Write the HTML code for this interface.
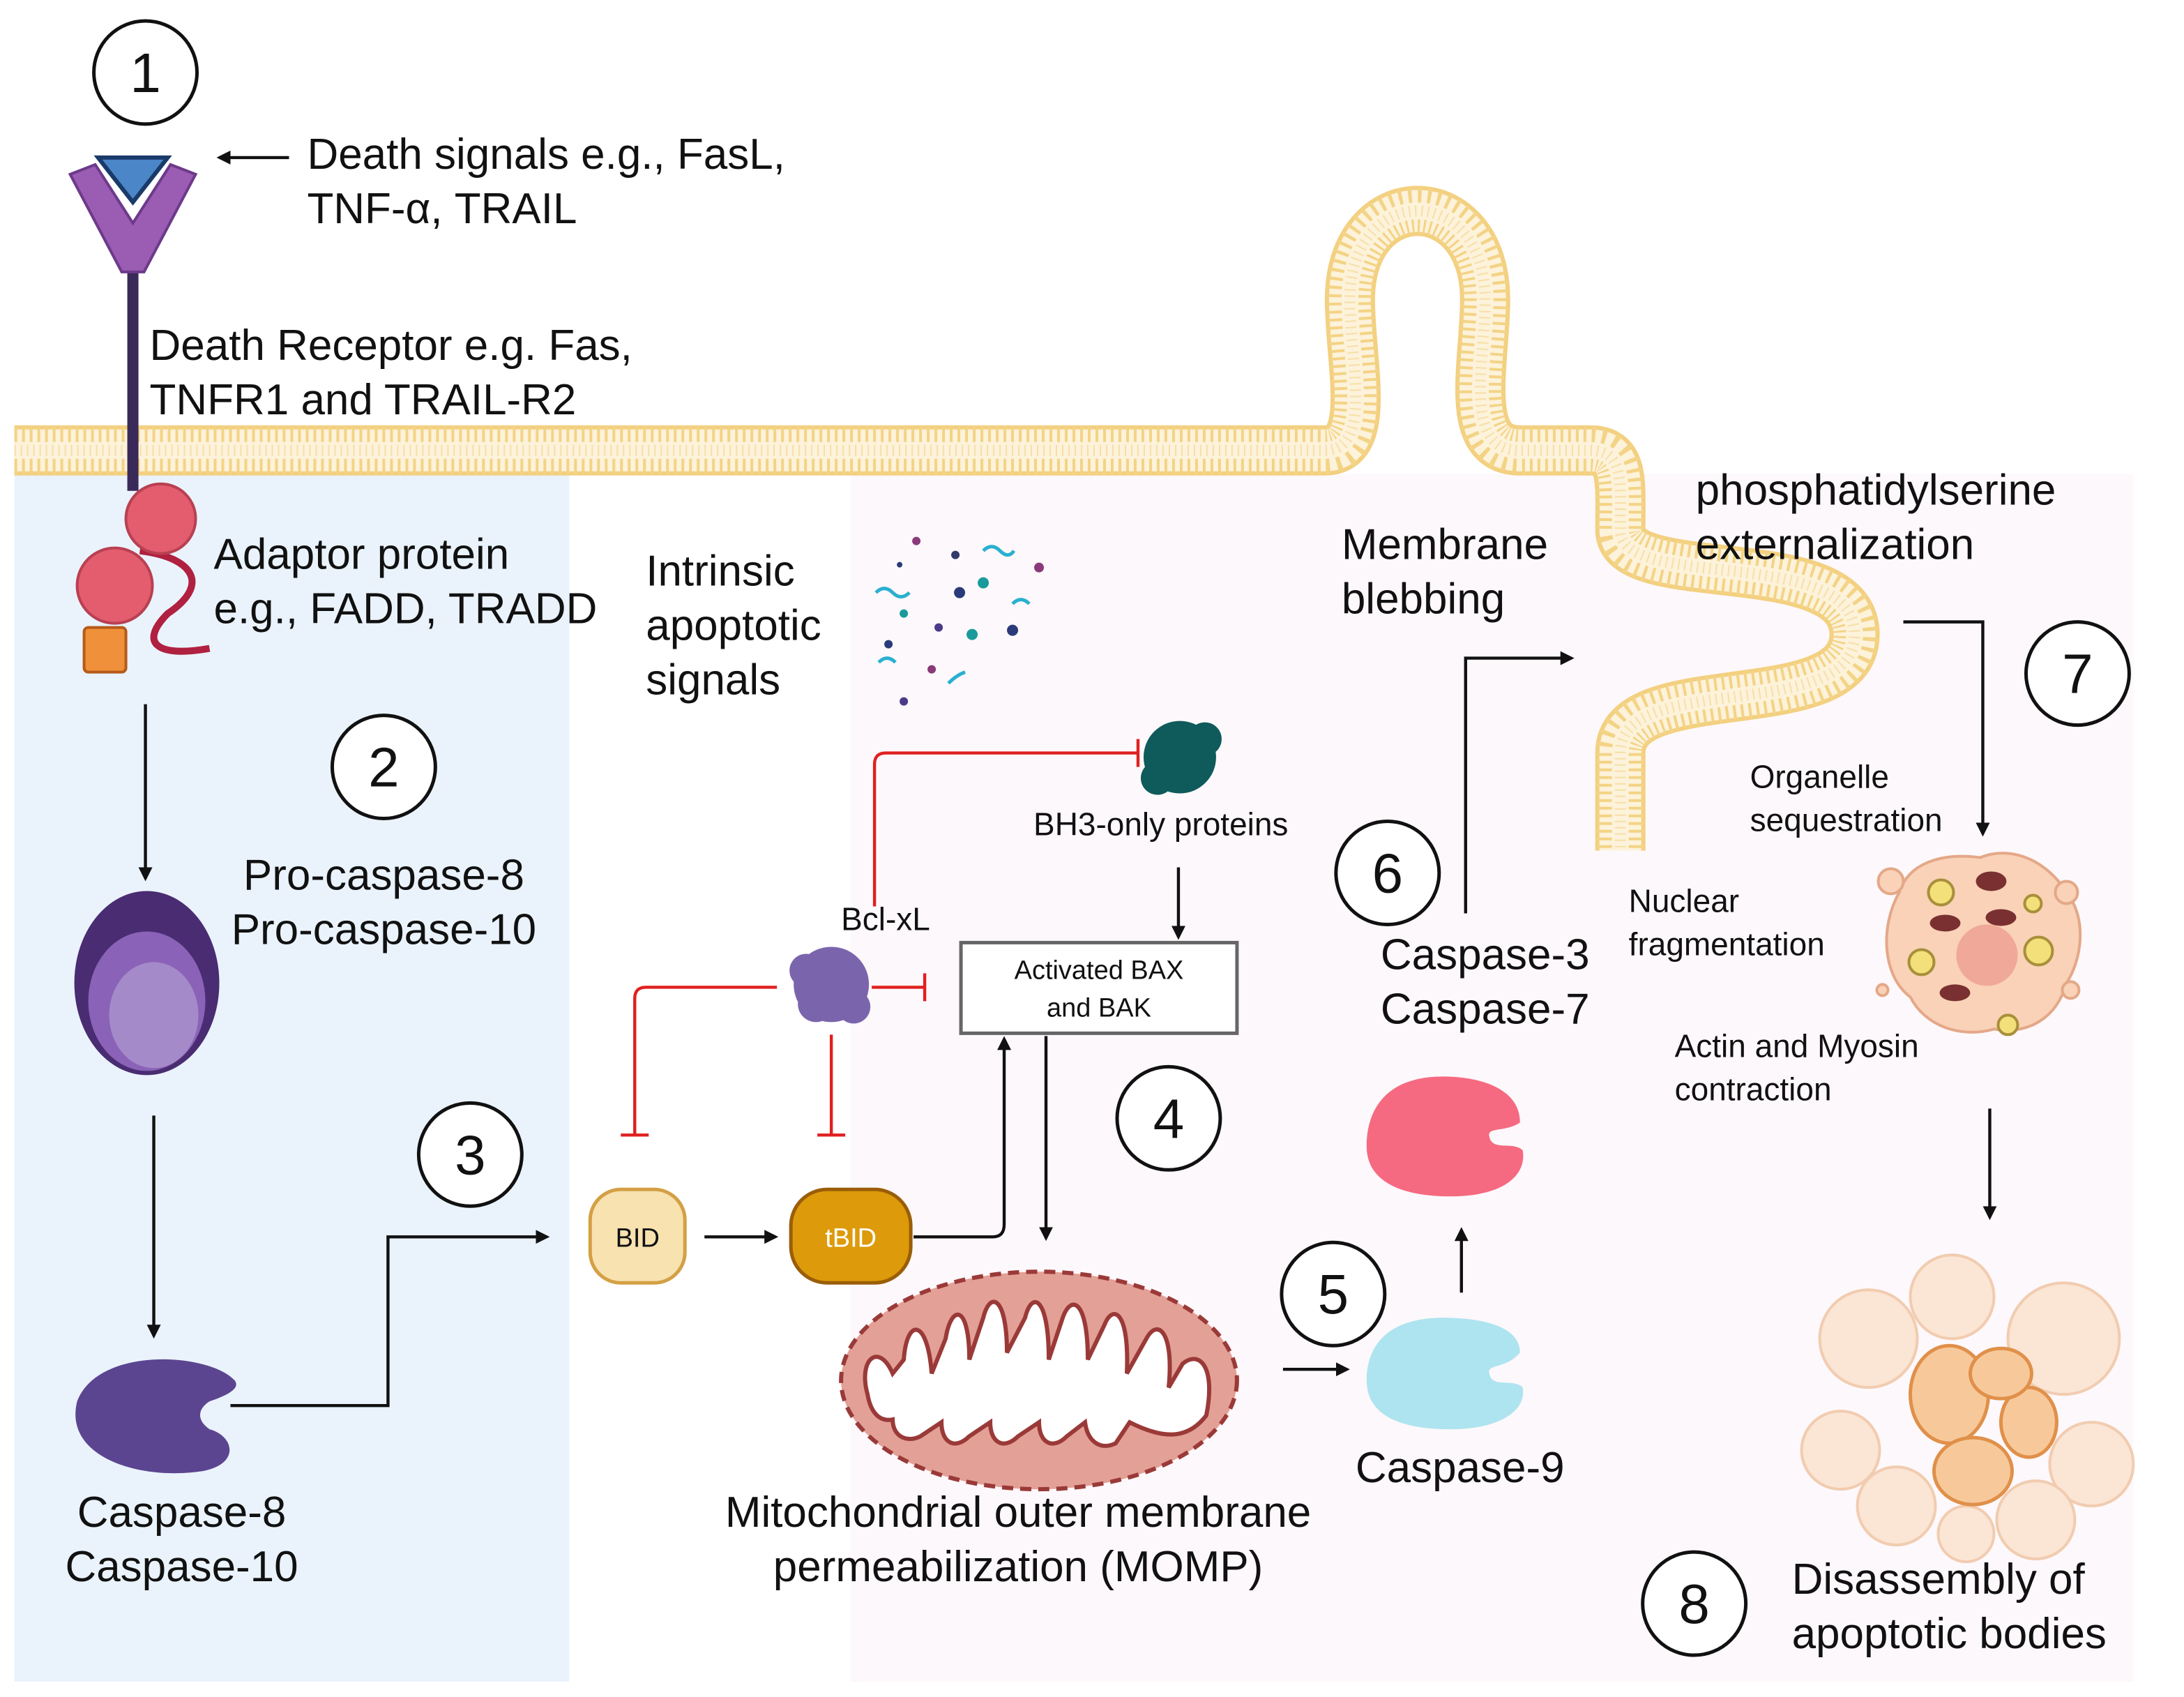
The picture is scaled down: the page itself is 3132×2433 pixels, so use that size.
<!DOCTYPE html>
<html><head><meta charset="utf-8"><style>
html,body{margin:0;padding:0;background:#fff;}
svg{display:block;}
text{font-family:"Liberation Sans",sans-serif;fill:#111;}
</style></head><body>
<svg width="3132" height="2433" viewBox="0 0 1566 1217" xmlns="http://www.w3.org/2000/svg">
<defs>
<marker id="ah" markerWidth="10" markerHeight="10" refX="8" refY="5" orient="auto" markerUnits="userSpaceOnUse"><path d="M0,0 L10,5 L0,10 z" fill="#111"/></marker>
<path id="mem" d="M10,323 L950,323 C985,323 968,260 968,215 C968,130 1065,130 1065,215 C1065,260 1048,323 1090,323 L1140,323 C1165,323 1162,345 1162,380 C1162,425 1330,390 1330,455 C1330,520 1162,480 1162,540 L1162,610"/>
</defs>
<rect width="1566" height="1217" fill="#fff"/>
<rect x="10" y="340" width="398" height="866" fill="#eaf3fc"/>
<rect x="610" y="340" width="920" height="866" fill="#fdf8fb"/>

<!-- membrane -->
<g fill="none" stroke-linejoin="round">
<use href="#mem" stroke="#f3d080" stroke-width="36"/>
<use href="#mem" stroke="#fdf2da" stroke-width="30"/>
<use href="#mem" stroke="#f3d385" stroke-width="34" stroke-dasharray="2 3.5"/>
<use href="#mem" stroke="#fdf2da" stroke-width="12"/>
<use href="#mem" stroke="#f6dfa8" stroke-width="8" stroke-dasharray="1 3.5"/>
</g>

<!-- numbered circles -->
<g fill="#fff" stroke="#111" stroke-width="2.5">
<circle cx="104" cy="52" r="37"/><circle cx="275" cy="550" r="37"/><circle cx="337" cy="828" r="37"/>
<circle cx="838" cy="802" r="37"/><circle cx="956" cy="928" r="37"/><circle cx="995" cy="626" r="37"/>
<circle cx="1490" cy="483" r="37"/><circle cx="1215" cy="1150" r="37"/>
</g>
<g font-size="40" text-anchor="middle">
<text x="104" y="66">1</text><text x="275" y="564">2</text><text x="337" y="842">3</text>
<text x="838" y="816">4</text><text x="956" y="942">5</text><text x="995" y="640">6</text>
<text x="1490" y="497">7</text><text x="1215" y="1164">8</text>
</g>

<!-- receptor -->
<line x1="95" y1="190" x2="95" y2="352" stroke="#3a2a5a" stroke-width="8"/>
<path d="M50,125 L68,118 L95,160 L122,118 L140,125 L103,195 L87,195 z" fill="#9b5cb4" stroke="#6d3a8a" stroke-width="2"/>
<path d="M70,113 L120,113 L95,145 z" fill="#4a86c8" stroke="#1a3a6a" stroke-width="3"/>

<!-- adaptor -->
<path d="M100,395 C140,400 150,420 120,440 C100,460 110,472 150,465" stroke="#b02040" stroke-width="5" fill="none"/>
<circle cx="115" cy="372" r="25" fill="#e35d6e" stroke="#b84052" stroke-width="2"/>
<circle cx="82" cy="420" r="27" fill="#e35d6e" stroke="#b84052" stroke-width="2"/>
<rect x="60" y="450" width="30" height="32" rx="3" fill="#f0903a" stroke="#b65a1a" stroke-width="2"/>

<!-- pro-caspase -->
<ellipse cx="105" cy="705" rx="52" ry="66" fill="#4a2c72"/>
<ellipse cx="105" cy="718" rx="42" ry="50" fill="#8a63b8"/>
<ellipse cx="110" cy="728" rx="32" ry="38" fill="#a58ac9"/>

<!-- caspase-8 -->
<path d="M168,990 C150,970 70,965 55,1005 C45,1045 100,1062 145,1055 C172,1050 168,1030 150,1025 C140,1018 142,1010 150,1005 C165,1000 172,995 168,990 z" fill="#5c4590"/>

<!-- BID tBID -->
<rect x="423" y="853" width="68" height="67" rx="22" fill="#f7e2b0" stroke="#d4a045" stroke-width="2.5"/>
<text x="457" y="894" font-size="19" text-anchor="middle">BID</text>
<rect x="567" y="853" width="86" height="67" rx="26" fill="#dd9a0a" stroke="#9a5e08" stroke-width="2.5"/>
<text x="610" y="894" font-size="19" text-anchor="middle" style="fill:#fff">tBID</text>

<!-- BAX box -->
<rect x="689" y="676" width="198" height="65" fill="#fff" stroke="#666" stroke-width="2.5"/>
<text x="788" y="702" font-size="19" text-anchor="middle">Activated BAX</text>
<text x="788" y="729" font-size="19" text-anchor="middle">and BAK</text>

<!-- blobs -->
<g fill="#7a65ad"><circle cx="596" cy="706" r="27"/><circle cx="578" cy="696" r="12"/><circle cx="612" cy="722" r="12"/><circle cx="585" cy="720" r="13"/></g>
<g fill="#0f5a5a"><circle cx="846" cy="543" r="26"/><circle cx="864" cy="530" r="12"/><circle cx="830" cy="558" r="12"/></g>

<!-- intrinsic signals dots -->
<g>
<circle cx="657" cy="388" r="3" fill="#8a3a7a"/><circle cx="745" cy="407" r="3.5" fill="#8a3a7a"/>
<circle cx="685" cy="398" r="3" fill="#333a6a"/><circle cx="705" cy="418" r="4" fill="#1a9a9a"/>
<circle cx="648" cy="440" r="3" fill="#1a9a9a"/><circle cx="688" cy="425" r="4" fill="#2a3a7a"/>
<circle cx="673" cy="450" r="3" fill="#4a3a8a"/><circle cx="697" cy="455" r="4" fill="#1a9a9a"/>
<circle cx="726" cy="452" r="4" fill="#2a3a7a"/><circle cx="637" cy="462" r="3" fill="#2a3a7a"/>
<circle cx="668" cy="480" r="3" fill="#8a3a7a"/><circle cx="648" cy="503" r="3" fill="#4a3a8a"/>
<circle cx="645" cy="405" r="2" fill="#2a3a7a"/>
<path d="M628,425 q6,-6 12,0 t12,0 M705,395 q6,-6 12,0 t10,0 M726,433 q6,-6 12,0 M630,475 q6,-6 12,0 M680,490 q6,-6 12,-8" stroke="#2ab0d0" stroke-width="2.5" fill="none"/>
</g>

<!-- mitochondrion -->
<ellipse cx="745" cy="990" rx="142" ry="78" fill="#e3a096" stroke="#9a3a38" stroke-width="3" stroke-dasharray="8 5"/>
<path d="M622,1000 C615,975 630,962 640,985 L648,975 C650,945 665,945 668,985 L678,960 C682,935 695,935 695,975 L705,945 C710,925 722,930 722,970 L735,945 C740,925 752,930 752,975 L762,945 C768,928 780,932 780,975 L792,950 C798,935 810,940 808,985 L822,960 C830,945 842,955 838,995 L848,978 C860,968 872,980 865,1015 C850,1035 830,1030 810,1020 L800,1035 C790,1040 780,1035 778,1020 L765,1030 C755,1040 745,1035 745,1020 L730,1030 C720,1040 710,1035 710,1020 L695,1030 C685,1040 675,1035 675,1020 L660,1030 C650,1035 640,1030 640,1018 C630,1020 624,1012 622,1000 z" fill="#fff" stroke="#9a3a38" stroke-width="3"/>

<!-- caspase 3 and 9 -->
<path d="M1090,805 C1090,780 1060,772 1035,772 C990,772 980,800 980,822 C980,850 1010,858 1040,858 C1075,858 1095,845 1092,825 C1085,818 1070,826 1068,815 C1066,808 1080,812 1090,805 z" fill="#f56a80"/>
<path d="M1090,970 C1090,950 1060,945 1035,945 C990,945 980,970 980,990 C980,1018 1010,1025 1040,1025 C1075,1025 1095,1012 1092,995 C1085,988 1070,996 1068,985 C1066,978 1080,982 1090,970 z" fill="#aee4ef"/>

<!-- apoptotic cell -->
<path d="M1362,640 C1370,615 1400,612 1420,615 C1445,605 1470,620 1482,640 C1498,660 1492,690 1482,705 C1475,730 1455,742 1430,738 C1405,745 1380,735 1370,715 C1350,700 1348,665 1362,640 z" fill="#f9d2b8" stroke="#e4a888" stroke-width="2"/>
<ellipse cx="1425" cy="685" rx="22" ry="22" fill="#f0a898"/>
<g fill="#f4e07a" stroke="#a8903a" stroke-width="2"><circle cx="1392" cy="640" r="9"/><circle cx="1462" cy="682" r="10"/><circle cx="1378" cy="690" r="9"/><circle cx="1440" cy="735" r="7"/><circle cx="1458" cy="648" r="6"/></g>
<g fill="#7a3030"><ellipse cx="1428" cy="632" rx="11" ry="7"/><ellipse cx="1395" cy="662" rx="11" ry="6"/><ellipse cx="1435" cy="658" rx="11" ry="6"/><ellipse cx="1402" cy="712" rx="11" ry="6"/></g>
<g fill="#f9d2b8" stroke="#e4a888" stroke-width="2"><circle cx="1356" cy="632" r="9"/><circle cx="1482" cy="640" r="8"/><circle cx="1485" cy="710" r="6"/><circle cx="1350" cy="710" r="4"/></g>

<!-- apoptotic bodies -->
<g fill="#fbe3d0" stroke="#f0c8a8" stroke-width="2" opacity="0.9">
<circle cx="1340" cy="960" r="35"/><circle cx="1480" cy="960" r="40"/><circle cx="1320" cy="1040" r="28"/><circle cx="1500" cy="1050" r="30"/>
<circle cx="1400" cy="930" r="30"/><circle cx="1360" cy="1080" r="28"/><circle cx="1460" cy="1090" r="28"/><circle cx="1410" cy="1100" r="20"/>
</g>
<g fill="#f7c99a" stroke="#e0904a" stroke-width="2.5">
<ellipse cx="1398" cy="1000" rx="28" ry="35"/><ellipse cx="1415" cy="1055" rx="28" ry="24"/><ellipse cx="1455" cy="1020" rx="20" ry="25"/><ellipse cx="1435" cy="985" rx="22" ry="18"/>
</g>

<!-- arrows -->
<g stroke="#111" stroke-width="2.2" fill="none" marker-end="url(#ah)">
<line x1="207" y1="113" x2="157" y2="113"/>
<line x1="104" y1="505" x2="104" y2="630"/>
<line x1="110" y1="800" x2="110" y2="958"/>
<path d="M165,1008 L278,1008 L278,887 L392,887"/>
<line x1="505" y1="887" x2="556" y2="887"/>
<path d="M655,887 L712,887 Q720,887 720,878 L720,745"/>
<line x1="750" y1="743" x2="750" y2="888"/>
<line x1="845" y1="622" x2="845" y2="672"/>
<line x1="920" y1="982" x2="966" y2="982"/>
<line x1="1048" y1="927" x2="1048" y2="882"/>
<path d="M1051,655 L1051,472 L1127,472"/>
<path d="M1365,446 L1422,446 L1422,598"/>
<line x1="1427" y1="795" x2="1427" y2="873"/>
</g>
<!-- inhibition red -->
<g stroke="#e02020" stroke-width="2.2" fill="none">
<path d="M627,650 L627,548 Q627,540 635,540 L816,540"/><line x1="816" y1="530" x2="816" y2="550"/>
<path d="M625,708 L662,708"/><line x1="663" y1="698" x2="663" y2="718"/>
<path d="M557,708 L463,708 Q455,708 455,716 L455,814"/><line x1="445" y1="814" x2="465" y2="814"/>
<line x1="596" y1="742" x2="596" y2="814"/><line x1="586" y1="814" x2="606" y2="814"/>
</g>

<!-- labels -->
<g font-size="31">
<text x="220" y="121">Death signals e.g., FasL,</text>
<text x="220" y="160">TNF-α, TRAIL</text>
<text x="107" y="258">Death Receptor e.g. Fas,</text>
<text x="107" y="297">TNFR1 and TRAIL-R2</text>
<text x="153" y="408">Adaptor protein</text>
<text x="153" y="447">e.g., FADD, TRADD</text>
<text x="463" y="420">Intrinsic</text>
<text x="463" y="459">apoptotic</text>
<text x="463" y="498">signals</text>
<text x="275" y="638" text-anchor="middle">Pro-caspase-8</text>
<text x="275" y="677" text-anchor="middle">Pro-caspase-10</text>
<text x="130" y="1095" text-anchor="middle">Caspase-8</text>
<text x="130" y="1134" text-anchor="middle">Caspase-10</text>
<text x="730" y="1095" text-anchor="middle">Mitochondrial outer membrane</text>
<text x="730" y="1134" text-anchor="middle">permeabilization (MOMP)</text>
<text x="1047" y="1063" text-anchor="middle">Caspase-9</text>
<text x="1065" y="695" text-anchor="middle">Caspase-3</text>
<text x="1065" y="734" text-anchor="middle">Caspase-7</text>
<text x="962" y="401">Membrane</text>
<text x="962" y="440">blebbing</text>
<text x="1216" y="362">phosphatidylserine</text>
<text x="1216" y="401">externalization</text>
<text x="1285" y="1143">Disassembly of</text>
<text x="1285" y="1182">apoptotic bodies</text>
</g>
<g font-size="23">
<text x="603" y="667">Bcl-xL</text>
<text x="741" y="599">BH3-only proteins</text>
<text x="1255" y="565">Organelle</text>
<text x="1255" y="596">sequestration</text>
<text x="1168" y="654">Nuclear</text>
<text x="1168" y="685">fragmentation</text>
<text x="1201" y="758">Actin and Myosin</text>
<text x="1201" y="789">contraction</text>
</g>
</svg>
</body></html>
